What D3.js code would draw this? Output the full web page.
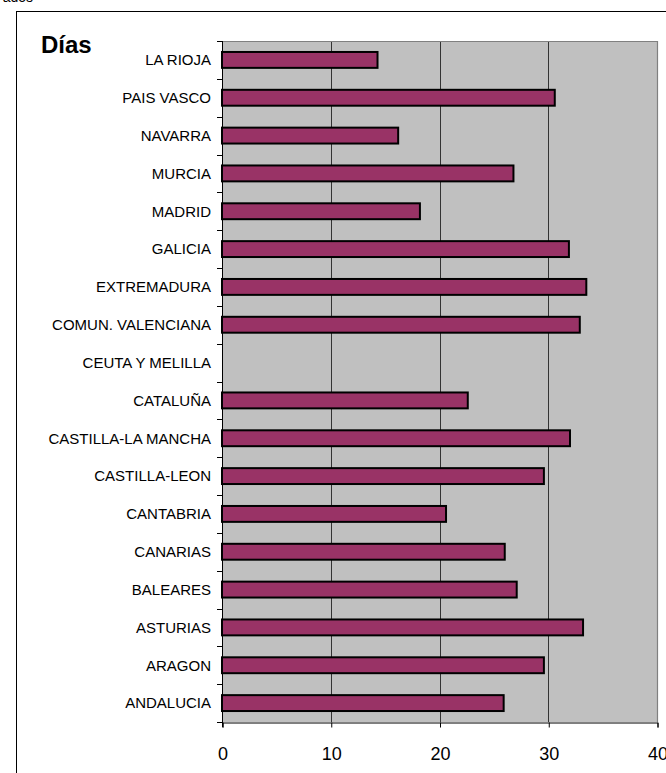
<!DOCTYPE html>
<html>
<head>
<meta charset="utf-8">
<script src="https://cdn.jsdelivr.net/npm/d3@7"></script>
<style>
  html, body { margin: 0; padding: 0; background: #fff; }
  svg { display: block; font-family: "Liberation Sans", Arial, sans-serif; }
</style>
</head>
<body>
<svg id="chart" width="666" height="773"></svg>
<script>
// Categories, top to bottom as displayed
const categories = [
  "LA RIOJA", "PAIS VASCO", "NAVARRA", "MURCIA", "MADRID", "GALICIA",
  "EXTREMADURA", "COMUN. VALENCIANA", "CEUTA Y MELILLA", "CATALUÑA",
  "CASTILLA-LA MANCHA", "CASTILLA-LEON", "CANTABRIA", "CANARIAS",
  "BALEARES", "ASTURIAS", "ARAGON", "ANDALUCIA"
];
const dias = [
  14.3, 30.6, 16.2, 26.8, 18.2, 31.9,
  33.5, 32.9, null, 22.6,
  32.0, 29.6, 20.6, 26.0,
  27.1, 33.2, 29.6, 25.9
];
const xTicks = [0, 10, 20, 30, 40];
const yTitle = "Días";

const svg = d3.select("#chart");
const plot = { left: 222, right: 657, top: 41, bottom: 722 };

// Outer chart frame (extends past the window on right/bottom)
svg.append("rect")
  .attr("x", 16.5).attr("y", 11.5)
  .attr("width", 700).attr("height", 800)
  .attr("fill", "#fff").attr("stroke", "#000").attr("stroke-width", 1);

// Cropped text fragment at the very top-left
svg.append("text")
  .attr("x", 33).attr("y", 2)
  .attr("text-anchor", "end")
  .attr("font-size", 14)
  .attr("fill", "#000")
  .text("ados");

const x = d3.scaleLinear().domain([0, 40]).range([plot.left, plot.right]);
const y = d3.scaleBand().domain(categories).range([plot.top, plot.bottom])
  .paddingInner(0.58).paddingOuter(0.29);
const yOuter = d3.scaleBand().domain(categories).range([plot.top, plot.bottom]);

// Plot area background
svg.append("rect")
  .attr("x", plot.left).attr("y", plot.top)
  .attr("width", plot.right - plot.left).attr("height", plot.bottom - plot.top)
  .attr("fill", "#C0C0C0");

// Gridlines
svg.append("g").selectAll("line")
  .data(xTicks.filter(t => t > 0 && t < 40))
  .join("line")
  .attr("x1", d => Math.round(x(d)) + 0.5).attr("x2", d => Math.round(x(d)) + 0.5)
  .attr("y1", plot.top).attr("y2", plot.bottom)
  .attr("stroke", "#333").attr("stroke-width", 1);

// Plot border top/right (gray)
svg.append("path")
  .attr("d", `M${plot.left},${plot.top + 0.5}H${plot.right + 0.5}V${plot.bottom}`)
  .attr("fill", "none").attr("stroke", "#808080").attr("stroke-width", 1.2);

// Bars
svg.append("g").selectAll("rect")
  .data(categories.map((c, i) => ({ c, v: dias[i] })).filter(d => d.v != null))
  .join("rect")
  .attr("x", x(0))
  .attr("y", d => y(d.c))
  .attr("width", d => x(d.v) - x(0))
  .attr("height", y.bandwidth())
  .attr("fill", "#993366")
  .attr("stroke", "#000")
  .attr("stroke-width", 2);

// Y axis (ticks at category boundaries)
const yAxisG = svg.append("g");
yAxisG.append("line")
  .attr("x1", plot.left + 0.5).attr("x2", plot.left + 0.5)
  .attr("y1", plot.top).attr("y2", plot.bottom + 5)
  .attr("stroke", "#000").attr("stroke-width", 1);
const boundaries = categories.map(c => yOuter(c)).concat([plot.bottom]);
yAxisG.selectAll("line.tk").data(boundaries).join("line")
  .attr("class", "tk")
  .attr("x1", plot.left - 5).attr("x2", plot.left)
  .attr("y1", d => Math.round(d) + 0.5).attr("y2", d => Math.round(d) + 0.5)
  .attr("stroke", "#000").attr("stroke-width", 1);
yAxisG.selectAll("text").data(categories).join("text")
  .attr("x", 211)
  .attr("y", d => yOuter(d) + yOuter.bandwidth() / 2)
  .attr("dy", "0.35em")
  .attr("text-anchor", "end")
  .attr("font-size", 15)
  .attr("fill", "#000")
  .text(d => d);

// X axis
const xAxis = d3.axisBottom(x).tickValues(xTicks).tickSize(5).tickPadding(20)
  .tickFormat(d3.format("d"));
const xg = svg.append("g")
  .attr("transform", `translate(0.5,${plot.bottom + 0.5})`)
  .call(xAxis);
xg.select(".domain").attr("stroke", "#000");
xg.selectAll(".tick line").attr("stroke", "#000");
xg.selectAll(".tick text")
  .attr("font-size", 18)
  .attr("font-family", "Liberation Sans, Arial, sans-serif")
  .attr("fill", "#000");

// Title "Días"
svg.append("text")
  .attr("x", 41).attr("y", 53)
  .attr("font-size", 24)
  .attr("font-weight", "bold")
  .attr("fill", "#000")
  .text(yTitle);
</script>
</body>
</html>
